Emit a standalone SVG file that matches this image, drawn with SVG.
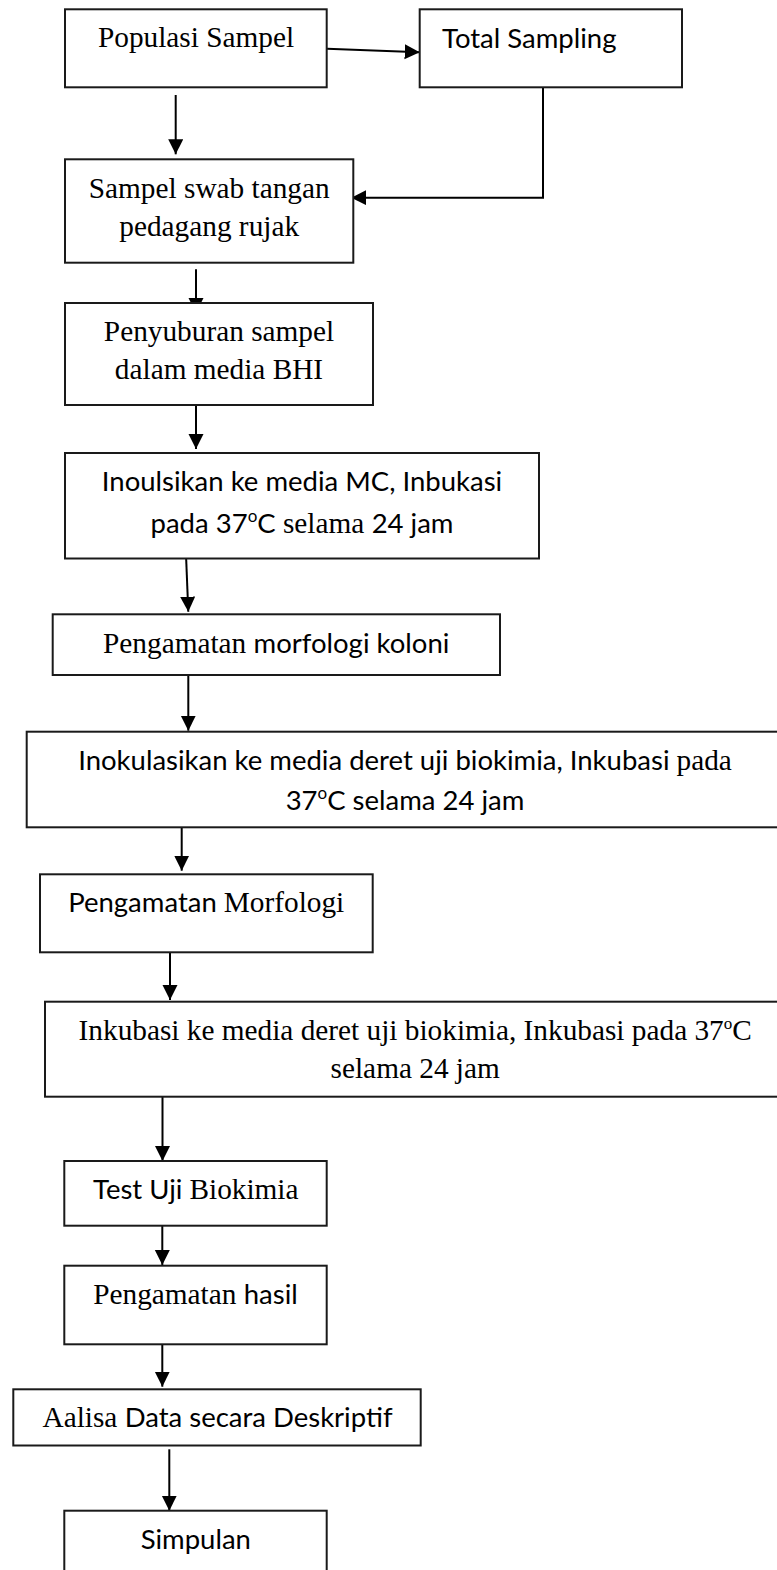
<svg xmlns="http://www.w3.org/2000/svg" width="777" height="1570" viewBox="0 0 777 1570">
<style>
.box{fill:#fff;stroke:#1a1a1a;stroke-width:2}
.ln{fill:none;stroke:#000;stroke-width:2}
text{fill:#000}
.t{font-family:"Liberation Serif","Times New Roman",serif;font-size:29.3px}
.c{font-family:Lato,"Liberation Sans",sans-serif;font-size:27.5px}
.sup{font-size:17px}
</style>
<defs>
<marker id="ah" markerUnits="userSpaceOnUse" markerWidth="16" markerHeight="16" refX="15" refY="7.5" orient="auto">
<path d="M0,0 L15,7.5 L0,15 z" fill="#000"/>
</marker>
</defs>
<rect width="777" height="1570" fill="#fff"/>
<g id="connectors" class="ln" marker-end="url(#ah)">
<line x1="327" y1="48.7" x2="419.7" y2="52.3"/>
<line x1="175.7" y1="95" x2="175.7" y2="154.3"/>
<polyline points="624,85 543,85 543,197.7 351.3,197.7"/>
<line x1="196" y1="269.3" x2="196" y2="313"/>
<line x1="196" y1="400" x2="196" y2="449"/>
<line x1="185.7" y1="547.3" x2="188.3" y2="611.7"/>
<line x1="188.3" y1="663.3" x2="188.3" y2="730.7"/>
<line x1="181.7" y1="819.3" x2="181.7" y2="870.7"/>
<line x1="170" y1="951.7" x2="170" y2="1000"/>
<line x1="162.5" y1="1092.3" x2="162.5" y2="1161"/>
<line x1="162.3" y1="1218.3" x2="162.3" y2="1265"/>
<line x1="162.3" y1="1336" x2="162.3" y2="1386.7"/>
<line x1="169.3" y1="1449.3" x2="169.3" y2="1510.7"/>
</g>
<g id="n1"><rect class="box" x="65" y="9.3" width="261.7" height="78"/>
<text class="t" x="196" y="46.7" text-anchor="middle">Populasi Sampel</text></g>
<g id="n2"><rect class="box" x="419.7" y="9.3" width="262.3" height="78"/>
<text class="c" x="442" y="48.3">Total Sampling</text></g>
<g id="n3"><rect class="box" x="65" y="159.3" width="288.3" height="103.4"/>
<text class="t" x="209.2" y="198.3" text-anchor="middle">Sampel swab tangan</text>
<text class="t" x="209.2" y="236" text-anchor="middle">pedagang rujak</text></g>
<g id="n4"><rect class="box" x="65" y="303" width="308" height="102"/>
<text class="t" x="219" y="341" text-anchor="middle">Penyuburan sampel</text>
<text class="t" x="219" y="379.3" text-anchor="middle">dalam media BHI</text></g>
<g id="n5"><rect class="box" x="65" y="453" width="474" height="105.5"/>
<text class="c" x="302" y="491" text-anchor="middle">Inoulsikan ke media MC, Inbukasi</text>
<text x="302" y="533.3" text-anchor="middle"><tspan class="c">pada 37</tspan><tspan class="c sup" dy="-11">o</tspan><tspan class="c" dy="11">C</tspan><tspan class="t"> selama </tspan><tspan class="c">24 jam</tspan></text></g>
<g id="n6"><rect class="box" x="52.7" y="614.3" width="447.3" height="60.7"/>
<text x="276.2" y="652.7" text-anchor="middle"><tspan class="t">Pengamatan </tspan><tspan class="c">morfologi koloni</tspan></text></g>
<g id="n7"><rect class="box" x="26.7" y="731.7" width="756.3" height="95.6"/>
<text x="405" y="770" text-anchor="middle"><tspan class="c">Inokulasikan ke media deret uji biokimia, Inkubasi </tspan><tspan class="t">pada</tspan></text>
<text x="405" y="810" text-anchor="middle"><tspan class="c">37</tspan><tspan class="c sup" dy="-11">o</tspan><tspan class="c" dy="11">C selama 24 jam</tspan></text></g>
<g id="n8"><rect class="box" x="40" y="874.3" width="332.7" height="78"/>
<text x="206.2" y="911.7" text-anchor="middle"><tspan class="c">Pengamatan </tspan><tspan class="t">Morfologi</tspan></text></g>
<g id="n9"><rect class="box" x="45" y="1001.7" width="740" height="95"/>
<text class="t" x="415.2" y="1040" text-anchor="middle">Inkubasi ke media deret uji biokimia, Inkubasi pada 37<tspan class="sup" dy="-11">o</tspan><tspan dy="11">C</tspan></text>
<text class="t" x="415.2" y="1078.3" text-anchor="middle">selama 24 jam</text></g>
<g id="n10"><rect class="box" x="64.3" y="1161" width="262.4" height="64.7"/>
<text x="195.8" y="1199.3" text-anchor="middle"><tspan class="c">Test Uji </tspan><tspan class="t">Biokimia</tspan></text></g>
<g id="n11"><rect class="box" x="64.3" y="1265.7" width="262.4" height="78.6"/>
<text x="195.5" y="1304" text-anchor="middle"><tspan class="t">Pengamatan </tspan><tspan class="c">hasil</tspan></text></g>
<g id="n12"><rect class="box" x="13.3" y="1389.3" width="407.4" height="56.2"/>
<text x="217.5" y="1426.7" text-anchor="middle"><tspan class="t">Aalisa </tspan><tspan class="c">Data secara Deskriptif</tspan></text></g>
<g id="n13"><rect class="box" x="64.3" y="1510.7" width="262.4" height="70"/>
<text class="c" x="195.8" y="1549" text-anchor="middle">Simpulan</text></g>
</svg>
